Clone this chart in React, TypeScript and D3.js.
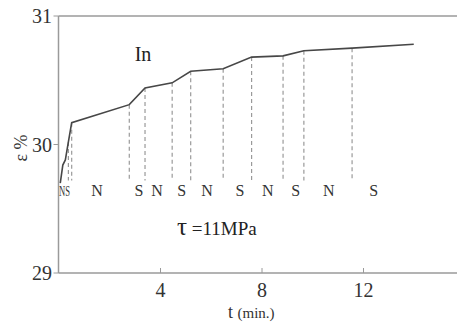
import React from "react";
import * as d3 from "d3";

// Strain curve ε(t) for In at τ = 11 MPa
const timeMin = [0.05, 0.15, 0.25, 0.37, 0.5, 2.77, 3.39, 4.46, 5.19, 6.47, 7.59, 8.83, 9.65, 11.55, 13.98];
const strainPct = [29.7, 29.84, 29.88, 30.02, 30.17, 30.31, 30.44, 30.48, 30.57, 30.59, 30.68, 30.69, 30.73, 30.75, 30.78];

// Indices of the curve vertices where the field state switches
const switchIdx = [3, 4, 5, 6, 7, 8, 9, 10, 11, 12, 13];
const dashFloor = 29.72;

// N / S state labels along the time axis
const stateLabels = ["N", "S", "N", "S", "N", "S", "N", "S", "N", "S"];
const stateTimes = [1.5, 3.15, 3.86, 4.84, 5.83, 7.13, 8.23, 9.33, 10.63, 12.4];

const xTicks = [4, 8, 12];
const yTicks = [29, 30, 31];

export default function App() {
  const W = 457;
  const H = 323;
  const x = d3.scaleLinear().domain([0, 16]).range([59, 465]);
  const y = d3.scaleLinear().domain([29, 31]).range([273, 16]);
  const line = d3
    .line<number>()
    .x((_, i) => x(timeMin[i]))
    .y((v) => y(v));

  const axisColor = "#9a9a9a";
  const font = "'Liberation Serif', 'DejaVu Serif', serif";
  const x0 = x(0) - 0.5;

  return (
    <svg
      width={W}
      height={H}
      style={{ position: "fixed", left: 0, top: 0, background: "#fff" }}
      fontFamily={font}
    >
      {/* frame: left, bottom, top */}
      <line x1={x0} x2={x0} y1={y(31)} y2={y(29)} stroke={axisColor} strokeWidth={1.5} />
      <line x1={x0} x2={W} y1={y(29)} y2={y(29)} stroke={axisColor} strokeWidth={1.5} />
      <line x1={x0} x2={W} y1={y(31)} y2={y(31)} stroke={axisColor} strokeWidth={1.5} />

      {/* y ticks */}
      {yTicks.map((t) => (
        <g key={"y" + t}>
          <line x1={x0 - 5} x2={x0} y1={y(t)} y2={y(t)} stroke={axisColor} strokeWidth={1} />
          <text x={52} y={y(t)} dy="0.35em" textAnchor="end" fontSize={20} fill="#333">
            {t}
          </text>
        </g>
      ))}

      {/* x ticks */}
      {xTicks.map((t) => (
        <g key={"x" + t}>
          <line x1={x(t)} x2={x(t)} y1={y(29)} y2={y(29) - 5} stroke={axisColor} strokeWidth={1} />
          <text x={x(t)} y={297} textAnchor="middle" fontSize={20} fill="#333">
            {t}
          </text>
        </g>
      ))}

      {/* switching markers */}
      {switchIdx.map((i) => (
        <line
          key={"d" + i}
          x1={x(timeMin[i])}
          x2={x(timeMin[i])}
          y1={y(strainPct[i])}
          y2={y(dashFloor)}
          stroke="#9a9a9a"
          strokeWidth={1.2}
          strokeDasharray="4,3"
        />
      ))}

      {/* strain curve */}
      <path d={line(strainPct) || ""} fill="none" stroke="#474747" strokeWidth={1.6} />

      {/* state labels */}
      <text x={64.5} y={196} textAnchor="middle" fontSize={14} textLength={11} lengthAdjust="spacingAndGlyphs" fill="#333">
        NS
      </text>
      {stateLabels.map((s, i) => (
        <text key={"s" + i} x={x(stateTimes[i])} y={196} textAnchor="middle" fontSize={16} fill="#333">
          {s}
        </text>
      ))}

      <text x={143} y={61} textAnchor="middle" fontSize={20} fill="#222">
        In
      </text>
      <text x={177} y={235} fontSize={19} fill="#222">
        <tspan fontSize={25}>τ</tspan> =11MPa
      </text>

      {/* axis titles */}
      <text transform="translate(27,148) rotate(-90)" textAnchor="middle" fontSize={18} fill="#333">
        ε %
      </text>
      <text x={228} y={318} fontSize={18} fill="#333">
        t <tspan fontSize={15}>(min.)</tspan>
      </text>
    </svg>
  );
}
